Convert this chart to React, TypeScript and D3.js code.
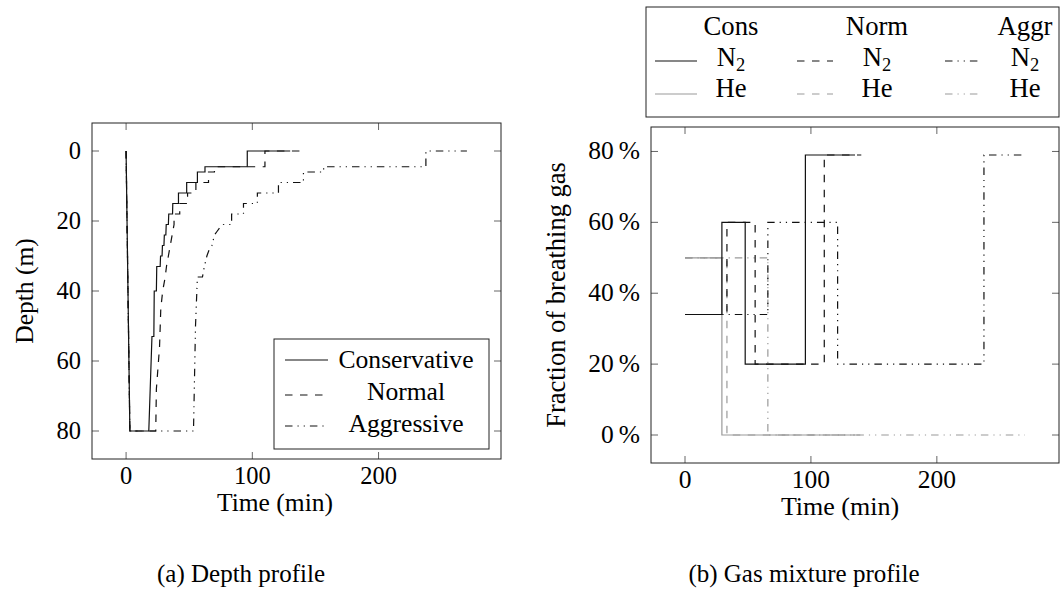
import React from "react";
import * as d3 from "d3";

// ---------- data ----------
const timeTicks = [0, 100, 200];
const depthTicks = [0, 20, 40, 60, 80];
const fracTicks = [0, 20, 40, 60, 80];

// depth profiles: [time (min), depth (m)]
const consDepth: [number, number][] = [
  [0, 0], [3, 80], [18, 80], [20.5, 53], [22, 53], [22.3, 40], [24, 40], [24.3, 33], [27, 33],
  [27.3, 30], [28.5, 30], [28.8, 27], [30, 27], [30.3, 24], [31.5, 24], [31.8, 21], [33.5, 21],
  [33.8, 18], [36.8, 18], [37, 15], [41.5, 15], [41.5, 12], [48, 12], [48, 9], [56.5, 9],
  [56.5, 6], [62.5, 6], [62.5, 4.5], [96, 4.5], [96, 0], [130, 0],
];
const normDepth: [number, number][] = [
  [0, 0], [3, 80], [23.5, 80], [24, 68], [26.5, 56], [27.5, 45], [29, 40], [31, 36], [32, 33],
  [33.5, 30], [35, 27], [36.5, 24], [38, 21], [38, 18], [42.5, 18], [42.5, 15], [48.7, 15],
  [48.7, 12], [55.3, 12], [55.3, 9], [65.3, 9], [65.3, 6], [70, 6], [70, 4.5], [110, 4.5],
  [110, 0], [140, 0],
];
const aggrDepth: [number, number][] = [
  [0, 0], [3, 80], [53.4, 80], [55, 50], [56.5, 36], [60.5, 36], [62, 33], [64, 30], [66, 28],
  [68, 27], [70, 24], [72, 23], [74, 22], [77, 21], [83.6, 21], [83.6, 18], [93, 18], [93, 15],
  [104, 15], [104, 12], [120.7, 12], [120.7, 9], [140.5, 9], [140.5, 6], [156.5, 6],
  [156.5, 4.5], [237.5, 4.5], [237.5, 0], [270, 0],
];

// gas fractions (%), step-after: [switch time, value]
const consN2: [number, number][] = [[0, 34], [29.3, 60], [47.8, 20], [95.6, 79], [135, 79]];
const consHe: [number, number][] = [[0, 50], [29.3, 0], [135, 0]];
const normN2: [number, number][] = [[0, 34], [33.3, 60], [55.7, 20], [110.6, 79], [140, 79]];
const normHe: [number, number][] = [[0, 50], [33.3, 0], [140, 0]];
const aggrN2: [number, number][] = [[0, 34], [65.8, 60], [121.2, 20], [237.4, 79], [270, 79]];
const aggrHe: [number, number][] = [[0, 50], [65.8, 0], [270, 0]];

const depthNames = ["Conservative", "Normal", "Aggressive"];
const gasHeaders = ["Cons", "Norm", "Aggr"];

// ---------- styles ----------
const DASH = ["none", "7.5 7.5", "7.5 5 1.2 5 1.2 5"];
const BLACK = "#111";
const GRAY = "#9a9a9a";
const FONT = "Liberation Serif";

function Frame({ x, y, ticksX, ticksY, yFmt, fs }: any) {
  const [x0, x1] = x.range();
  const yTop = Math.min(...y.range());
  const yBot = Math.max(...y.range());
  const tl = 7;
  return (
    <g>
      {ticksX.map((t: number) => (
        <g key={"x" + t}>
          <line x1={x(t)} x2={x(t)} y1={yBot} y2={yBot - tl} stroke="#666" strokeWidth={1} />
          <line x1={x(t)} x2={x(t)} y1={yTop} y2={yTop + tl} stroke="#666" strokeWidth={1} />
          <text x={x(t)} y={yBot + 25} textAnchor="middle" fontSize={fs} fontFamily={FONT}>
            {t}
          </text>
        </g>
      ))}
      {ticksY.map((t: number) => (
        <g key={"y" + t}>
          <line x1={x0} x2={x0 + tl} y1={y(t)} y2={y(t)} stroke="#666" strokeWidth={1} />
          <line x1={x1} x2={x1 - tl} y1={y(t)} y2={y(t)} stroke="#666" strokeWidth={1} />
          <text x={x0 - 11} y={y(t) + 8} textAnchor="end" fontSize={fs} fontFamily={FONT}>
            {yFmt(t)}
          </text>
        </g>
      ))}
      <rect x={x0} y={yTop} width={x1 - x0} height={yBot - yTop} fill="none" stroke="#222" strokeWidth={1} />
    </g>
  );
}

export default function App() {
  // left: depth profile
  const xL = d3.scaleLinear().domain([-27, 297]).range([92, 501]);
  const yL = d3.scaleLinear().domain([-8, 88]).range([123, 459]);
  const lineL = d3.line<[number, number]>().x((d) => xL(d[0])).y((d) => yL(d[1]));

  // right: gas fractions
  const xR = d3.scaleLinear().domain([-27, 297]).range([651, 1059]);
  const yR = d3.scaleLinear().domain([-7.9, 86.9]).range([463, 127]);
  const lineR = d3
    .line<[number, number]>()
    .x((d) => xR(d[0]))
    .y((d) => yR(d[1]))
    .curve(d3.curveStepAfter);

  const depthSeries = [consDepth, normDepth, aggrDepth];
  const gasSeries = [
    { d: consHe, c: GRAY, s: 0 },
    { d: normHe, c: GRAY, s: 1 },
    { d: aggrHe, c: GRAY, s: 2 },
    { d: consN2, c: BLACK, s: 0 },
    { d: normN2, c: BLACK, s: 1 },
    { d: aggrN2, c: BLACK, s: 2 },
  ];

  const legSampleX = [[655, 697], [797, 833], [945, 982]];
  const legTextX = [731, 877, 1025];

  return (
    <svg width={1062} height={596} style={{ position: "fixed", left: 0, top: 0, background: "#fff" }}>
      <rect width={1062} height={596} fill="#fff" />
      {/* ---------- left chart ---------- */}
      <g>
        <defs>
          <clipPath id="clipL">
            <rect x={92} y={123} width={409} height={336} />
          </clipPath>
        </defs>
        <g clipPath="url(#clipL)">
          {depthSeries.map((s, i) => (
            <path key={i} d={lineL(s) || ""} fill="none" stroke={BLACK} strokeWidth={1.2} strokeDasharray={DASH[i]} />
          ))}
        </g>
        <Frame x={xL} y={yL} ticksX={timeTicks} ticksY={depthTicks} fs={24.5} yFmt={(t: number) => String(t)} />
        <rect x={274} y={339} width={215} height={110} fill="#fff" stroke="#222" strokeWidth={1} />
        {depthNames.map((n, i) => {
          const ly = [360, 395, 426][i];
          const ty = [368, 400, 432][i];
          return (
            <g key={n}>
              <line x1={285} x2={328} y1={ly} y2={ly} stroke={BLACK} strokeWidth={1.2} strokeDasharray={DASH[i]} />
              <text x={406} y={ty} textAnchor="middle" fontSize={25.6} fontFamily={FONT}>
                {n}
              </text>
            </g>
          );
        })}
        <text x={275} y={511} textAnchor="middle" fontSize={25.5} fontFamily={FONT}>
          Time (min)
        </text>
        <text transform="translate(33,291) rotate(-90)" textAnchor="middle" fontSize={25.5} fontFamily={FONT}>
          Depth (m)
        </text>
        <text x={241} y={582} textAnchor="middle" fontSize={25} fontFamily={FONT}>
          (a) Depth profile
        </text>
      </g>

      {/* ---------- right chart ---------- */}
      <g>
        <defs>
          <clipPath id="clipR">
            <rect x={651} y={127} width={408} height={336} />
          </clipPath>
        </defs>
        <g clipPath="url(#clipR)">
          {gasSeries.map((s, i) => (
            <path key={i} d={lineR(s.d) || ""} fill="none" stroke={s.c} strokeWidth={1.2} strokeDasharray={DASH[s.s]} />
          ))}
        </g>
        <Frame x={xR} y={yR} ticksX={timeTicks} ticksY={fracTicks} fs={25.5} yFmt={(t: number) => `${t}\u2009%`} />
        <rect x={646} y={7} width={413} height={110} fill="#fff" stroke="#222" strokeWidth={1} />
        {gasHeaders.map((h, i) => (
          <g key={h}>
            <text x={legTextX[i]} y={35} textAnchor="middle" fontSize={26.7} fontFamily={FONT}>
              {h}
            </text>
            <line x1={legSampleX[i][0]} x2={legSampleX[i][1]} y1={61} y2={61} stroke={BLACK} strokeWidth={1.2} strokeDasharray={DASH[i]} />
            <text x={legTextX[i]} y={66} textAnchor="middle" fontSize={26.7} fontFamily={FONT}>
              N<tspan fontSize={18.5} dy={5}>2</tspan>
            </text>
            <line x1={legSampleX[i][0]} x2={legSampleX[i][1]} y1={94} y2={94} stroke={GRAY} strokeWidth={1.2} strokeDasharray={DASH[i]} />
            <text x={legTextX[i]} y={97} textAnchor="middle" fontSize={26.7} fontFamily={FONT}>
              He
            </text>
          </g>
        ))}
        <text x={840} y={515} textAnchor="middle" fontSize={26} fontFamily={FONT}>
          Time (min)
        </text>
        <text transform="translate(565,295) rotate(-90)" textAnchor="middle" fontSize={26.5} fontFamily={FONT}>
          Fraction of breathing gas
        </text>
        <text x={804} y={582} textAnchor="middle" fontSize={25} fontFamily={FONT}>
          (b) Gas mixture profile
        </text>
      </g>
    </svg>
  );
}
